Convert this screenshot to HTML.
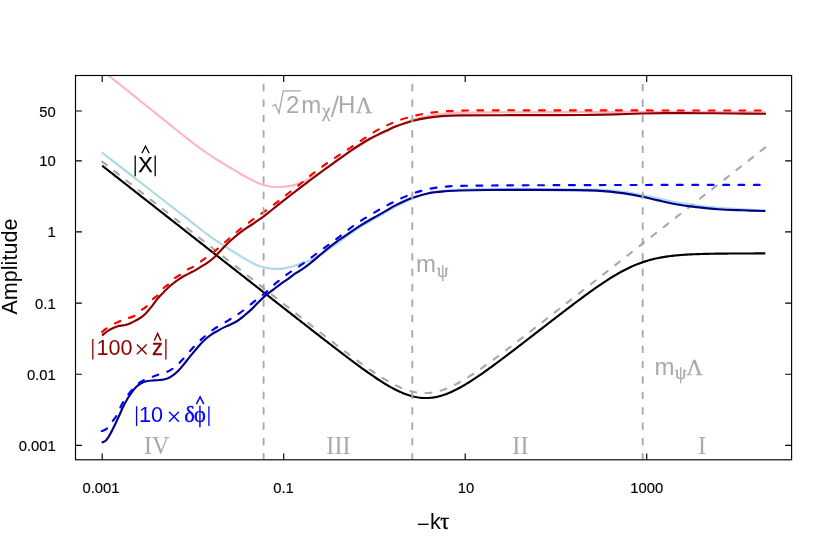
<!DOCTYPE html>
<html><head><meta charset="utf-8"><title>Amplitude vs -k tau</title>
<style>html,body{margin:0;padding:0;background:#fff}svg{display:block;will-change:transform}text{font-family:"Liberation Sans",sans-serif}.se{font-family:"Liberation Serif",serif}</style></head><body>
<svg width="830" height="554" viewBox="0 0 830 554">
<rect width="830" height="554" fill="#fff"/>
<defs><clipPath id="c"><rect x="75.5" y="75.5" width="716.1" height="384.3"/></clipPath></defs>
<g clip-path="url(#c)" fill="none" stroke-width="2.15" stroke-linejoin="round">
<path d="M102.20 70.40 C103.43 71.38 104.62 72.30 109.60 76.30 C114.58 80.30 125.33 88.97 132.10 94.40 C138.87 99.83 144.17 104.08 150.20 108.90 C156.23 113.72 162.27 118.48 168.30 123.30 C174.33 128.12 180.38 133.13 186.40 137.80 C192.42 142.47 198.38 147.08 204.40 151.30 C210.42 155.52 217.67 160.05 222.50 163.10 C227.33 166.15 230.32 167.75 233.40 169.60 C236.48 171.45 238.23 172.62 241.00 174.20 C243.77 175.78 247.42 177.75 250.00 179.10 C252.58 180.45 254.25 181.32 256.50 182.30 C258.75 183.28 260.97 184.27 263.50 185.00 C266.03 185.73 269.07 186.37 271.70 186.70 C274.33 187.03 276.78 187.03 279.30 187.00 C281.82 186.97 284.47 186.77 286.80 186.50 C289.13 186.23 291.13 186.00 293.30 185.40 C295.47 184.80 297.63 183.73 299.80 182.90 C301.97 182.07 303.38 181.86 306.30 180.44 C309.22 179.03 312.57 177.43 317.30 174.42 C322.03 171.41 328.92 166.39 334.70 162.38 C340.48 158.38 346.23 154.17 352.00 150.40 C357.77 146.63 363.52 142.99 369.30 139.75 C375.08 136.51 382.22 133.19 386.70 130.96 C391.18 128.72 391.95 128.19 396.20 126.35 C400.45 124.51 406.78 121.70 412.20 119.93 C417.62 118.16 423.23 116.79 428.70 115.73 C434.17 114.67 439.58 114.07 445.00 113.55 C450.42 113.03 452.03 112.81 461.20 112.60 C470.37 112.39 476.87 112.40 500.00 112.30 C523.13 112.20 566.67 112.08 600.00 112.00 C633.33 111.92 672.43 111.83 700.00 111.80 C727.57 111.77 754.50 111.80 765.40 111.80" stroke="#FFB6C1"/>
<path d="M101.80 152.40 C110.75 159.33 140.80 182.60 155.50 194.00 C170.20 205.40 182.45 214.88 190.00 220.80 C197.55 226.72 197.18 226.70 200.80 229.50 C204.42 232.30 208.08 235.07 211.70 237.60 C215.32 240.13 218.90 242.35 222.50 244.70 C226.10 247.05 229.68 249.42 233.30 251.70 C236.92 253.98 240.95 256.50 244.20 258.40 C247.45 260.30 250.35 261.83 252.80 263.10 C255.25 264.37 256.20 265.13 258.90 266.00 C261.60 266.87 266.15 267.82 269.00 268.30 C271.85 268.78 273.75 268.85 276.00 268.90 C278.25 268.95 280.15 268.92 282.50 268.60 C284.85 268.28 287.57 267.67 290.10 267.00 C292.63 266.33 295.35 265.40 297.70 264.60 C300.05 263.80 302.03 262.91 304.20 262.20 C306.37 261.49 308.18 261.34 310.70 260.34 C313.22 259.34 316.42 257.98 319.30 256.20 C322.18 254.42 325.10 251.78 328.00 249.67 C330.90 247.56 333.70 245.65 336.70 243.52 C339.70 241.39 342.00 239.69 346.00 236.90 C350.00 234.11 355.37 230.14 360.70 226.78 C366.03 223.41 372.30 219.98 378.00 216.70 C383.70 213.42 389.27 210.03 394.90 207.10 C400.53 204.17 406.17 201.40 411.80 199.11 C417.43 196.81 423.08 194.74 428.70 193.32 C434.32 191.90 440.28 191.22 445.50 190.60 C450.72 189.98 452.92 189.90 460.00 189.60 C467.08 189.30 475.33 188.90 488.00 188.80 C500.67 188.70 517.90 188.87 536.00 189.00 C554.10 189.13 584.27 189.37 596.60 189.60 C608.93 189.83 605.35 190.00 610.00 190.40 C614.65 190.80 619.08 191.22 624.50 192.00 C629.92 192.78 636.88 194.03 642.50 195.10 C648.12 196.17 652.37 197.18 658.20 198.43 C664.03 199.67 671.48 201.45 677.50 202.56 C683.52 203.67 687.48 204.21 694.30 205.09 C701.12 205.97 710.37 207.13 718.40 207.83 C726.43 208.53 734.67 208.84 742.50 209.30 C750.33 209.76 761.58 210.37 765.40 210.59" stroke="#ADD8E6"/>
<path d="M102.20 161.61 L103.70 162.78 L105.20 163.96 L106.70 165.13 L108.20 166.31 L109.70 167.49 L111.20 168.66 L112.70 169.84 L114.20 171.02 L115.70 172.19 L117.20 173.37 L118.70 174.54 L120.20 175.72 L121.70 176.90 L123.20 178.07 L124.70 179.25 L126.20 180.43 L127.70 181.60 L129.20 182.78 L130.70 183.95 L132.20 185.13 L133.70 186.31 L135.20 187.48 L136.70 188.66 L138.20 189.83 L139.70 191.01 L141.20 192.19 L142.70 193.36 L144.20 194.54 L145.70 195.72 L147.20 196.89 L148.70 198.07 L150.20 199.24 L151.70 200.42 L153.20 201.60 L154.70 202.77 L156.20 203.95 L157.70 205.13 L159.20 206.30 L160.70 207.48 L162.20 208.65 L163.70 209.83 L165.20 211.01 L166.70 212.18 L168.20 213.36 L169.70 214.53 L171.20 215.71 L172.70 216.89 L174.20 218.06 L175.70 219.24 L177.20 220.42 L178.70 221.59 L180.20 222.77 L181.70 223.94 L183.20 225.12 L184.70 226.30 L186.20 227.47 L187.70 228.65 L189.20 229.83 L190.70 231.00 L192.20 232.18 L193.70 233.35 L195.20 234.53 L196.70 235.71 L198.20 236.88 L199.70 238.06 L201.20 239.23 L202.70 240.41 L204.20 241.59 L205.70 242.76 L207.20 243.94 L208.70 245.12 L210.20 246.29 L211.70 247.47 L213.20 248.64 L214.70 249.82 L216.20 251.00 L217.70 252.17 L219.20 253.35 L220.70 254.52 L222.20 255.70 L223.70 256.88 L225.20 258.05 L226.70 259.23 L228.20 260.41 L229.70 261.58 L231.20 262.76 L232.70 263.93 L234.20 265.11 L235.70 266.29 L237.20 267.46 L238.70 268.64 L240.20 269.81 L241.70 270.99 L243.20 272.17 L244.70 273.34 L246.20 274.52 L247.70 275.69 L249.20 276.87 L250.70 278.05 L252.20 279.22 L253.70 280.40 L255.20 281.57 L256.70 282.75 L258.20 283.92 L259.70 285.10 L261.20 286.28 L262.70 287.45 L264.20 288.63 L265.70 289.80 L267.20 290.98 L268.70 292.15 L270.20 293.33 L271.70 294.50 L273.20 295.68 L274.70 296.85 L276.20 298.03 L277.70 299.20 L279.20 300.38 L280.70 301.55 L282.20 302.73 L283.70 303.90 L285.20 305.08 L286.70 306.25 L288.20 307.42 L289.70 308.60 L291.20 309.77 L292.70 310.94 L294.20 312.12 L295.70 313.29 L297.20 314.46 L298.70 315.64 L300.20 316.81 L301.70 317.98 L303.20 319.15 L304.70 320.32 L306.20 321.49 L307.70 322.66 L309.20 323.83 L310.70 325.00 L312.20 326.17 L313.70 327.34 L315.20 328.51 L316.70 329.67 L318.20 330.84 L319.70 332.01 L321.20 333.17 L322.70 334.33 L324.20 335.50 L325.70 336.66 L327.20 337.82 L328.70 338.98 L330.20 340.13 L331.70 341.29 L333.20 342.44 L334.70 343.60 L336.20 344.75 L337.70 345.90 L339.20 347.04 L340.70 348.19 L342.20 349.33 L343.70 350.47 L345.20 351.61 L346.70 352.74 L348.20 353.87 L349.70 355.00 L351.20 356.12 L352.70 357.24 L354.20 358.36 L355.70 359.47 L357.20 360.57 L358.70 361.67 L360.20 362.76 L361.70 363.85 L363.20 364.93 L364.70 366.00 L366.20 367.07 L367.70 368.13 L369.20 369.17 L370.70 370.21 L372.20 371.24 L373.70 372.26 L375.20 373.26 L376.70 374.26 L378.20 375.24 L379.70 376.20 L381.20 377.15 L382.70 378.09 L384.20 379.01 L385.70 379.91 L387.20 380.79 L388.70 381.65 L390.20 382.49 L391.70 383.30 L393.20 384.10 L394.70 384.86 L396.20 385.60 L397.70 386.32 L399.20 387.00 L400.70 387.66 L402.20 388.28 L403.70 388.87 L405.20 389.43 L406.70 389.95 L408.20 390.43 L409.70 390.88 L411.20 391.29 L412.70 391.65 L414.20 391.98 L415.70 392.26 L417.20 392.51 L418.70 392.71 L420.20 392.86 L421.70 392.97 L423.20 393.04 L424.70 393.06 L426.20 393.04 L427.70 392.97 L429.20 392.86 L430.70 392.70 L432.20 392.51 L433.70 392.26 L435.20 391.98 L436.70 391.65 L438.20 391.28 L439.70 390.87 L441.20 390.43 L442.70 389.94 L444.20 389.42 L445.70 388.87 L447.20 388.28 L448.70 387.65 L450.20 387.00 L451.70 386.31 L453.20 385.60 L454.70 384.86 L456.20 384.09 L457.70 383.30 L459.20 382.48 L460.70 381.64 L462.20 380.78 L463.70 379.90 L465.20 379.00 L466.70 378.08 L468.20 377.15 L469.70 376.19 L471.20 375.23 L472.70 374.25 L474.20 373.25 L475.70 372.25 L477.20 371.23 L478.70 370.20 L480.20 369.16 L481.70 368.12 L483.20 367.06 L484.70 365.99 L486.20 364.92 L487.70 363.84 L489.20 362.75 L490.70 361.66 L492.20 360.56 L493.70 359.46 L495.20 358.35 L496.70 357.23 L498.20 356.11 L499.70 354.99 L501.20 353.86 L502.70 352.73 L504.20 351.60 L505.70 350.46 L507.20 349.32 L508.70 348.18 L510.20 347.03 L511.70 345.89 L513.20 344.74 L514.70 343.59 L516.20 342.43 L517.70 341.28 L519.20 340.12 L520.70 338.97 L522.20 337.81 L523.70 336.65 L525.20 335.49 L526.70 334.32 L528.20 333.16 L529.70 332.00 L531.20 330.83 L532.70 329.66 L534.20 328.50 L535.70 327.33 L537.20 326.16 L538.70 324.99 L540.20 323.82 L541.70 322.65 L543.20 321.48 L544.70 320.31 L546.20 319.14 L547.70 317.97 L549.20 316.80 L550.70 315.63 L552.20 314.45 L553.70 313.28 L555.20 312.11 L556.70 310.94 L558.20 309.76 L559.70 308.59 L561.20 307.41 L562.70 306.24 L564.20 305.07 L565.70 303.89 L567.20 302.72 L568.70 301.54 L570.20 300.37 L571.70 299.19 L573.20 298.02 L574.70 296.84 L576.20 295.67 L577.70 294.49 L579.20 293.32 L580.70 292.14 L582.20 290.97 L583.70 289.79 L585.20 288.62 L586.70 287.44 L588.20 286.27 L589.70 285.09 L591.20 283.91 L592.70 282.74 L594.20 281.56 L595.70 280.39 L597.20 279.21 L598.70 278.04 L600.20 276.86 L601.70 275.68 L603.20 274.51 L604.70 273.33 L606.20 272.16 L607.70 270.98 L609.20 269.80 L610.70 268.63 L612.20 267.45 L613.70 266.28 L615.20 265.10 L616.70 263.92 L618.20 262.75 L619.70 261.57 L621.20 260.40 L622.70 259.22 L624.20 258.04 L625.70 256.87 L627.20 255.69 L628.70 254.51 L630.20 253.34 L631.70 252.16 L633.20 250.99 L634.70 249.81 L636.20 248.63 L637.70 247.46 L639.20 246.28 L640.70 245.11 L642.20 243.93 L643.70 242.75 L645.20 241.58 L646.70 240.40 L648.20 239.22 L649.70 238.05 L651.20 236.87 L652.70 235.70 L654.20 234.52 L655.70 233.34 L657.20 232.17 L658.70 230.99 L660.20 229.82 L661.70 228.64 L663.20 227.46 L664.70 226.29 L666.20 225.11 L667.70 223.93 L669.20 222.76 L670.70 221.58 L672.20 220.41 L673.70 219.23 L675.20 218.05 L676.70 216.88 L678.20 215.70 L679.70 214.52 L681.20 213.35 L682.70 212.17 L684.20 211.00 L685.70 209.82 L687.20 208.64 L688.70 207.47 L690.20 206.29 L691.70 205.12 L693.20 203.94 L694.70 202.76 L696.20 201.59 L697.70 200.41 L699.20 199.23 L700.70 198.06 L702.20 196.88 L703.70 195.71 L705.20 194.53 L706.70 193.35 L708.20 192.18 L709.70 191.00 L711.20 189.82 L712.70 188.65 L714.20 187.47 L715.70 186.30 L717.20 185.12 L718.70 183.94 L720.20 182.77 L721.70 181.59 L723.20 180.42 L724.70 179.24 L726.20 178.06 L727.70 176.89 L729.20 175.71 L730.70 174.53 L732.20 173.36 L733.70 172.18 L735.20 171.01 L736.70 169.83 L738.20 168.65 L739.70 167.48 L741.20 166.30 L742.70 165.12 L744.20 163.95 L745.70 162.77 L747.20 161.60 L748.70 160.42 L750.20 159.24 L751.70 158.07 L753.20 156.89 L754.70 155.72 L756.20 154.54 L757.70 153.36 L759.20 152.19 L760.70 151.01 L762.20 149.83 L763.70 148.66 L765.20 147.48 L765.30 147.40" stroke="#A9A9A9" stroke-dasharray="5.8 9.6" stroke-linecap="round"/>
<path d="M102.20 165.71 L103.70 166.89 L105.20 168.06 L106.70 169.24 L108.20 170.41 L109.70 171.59 L111.20 172.77 L112.70 173.94 L114.20 175.12 L115.70 176.30 L117.20 177.47 L118.70 178.65 L120.20 179.82 L121.70 181.00 L123.20 182.18 L124.70 183.35 L126.20 184.53 L127.70 185.71 L129.20 186.88 L130.70 188.06 L132.20 189.23 L133.70 190.41 L135.20 191.59 L136.70 192.76 L138.20 193.94 L139.70 195.11 L141.20 196.29 L142.70 197.47 L144.20 198.64 L145.70 199.82 L147.20 201.00 L148.70 202.17 L150.20 203.35 L151.70 204.52 L153.20 205.70 L154.70 206.88 L156.20 208.05 L157.70 209.23 L159.20 210.41 L160.70 211.58 L162.20 212.76 L163.70 213.93 L165.20 215.11 L166.70 216.29 L168.20 217.46 L169.70 218.64 L171.20 219.81 L172.70 220.99 L174.20 222.17 L175.70 223.34 L177.20 224.52 L178.70 225.70 L180.20 226.87 L181.70 228.05 L183.20 229.22 L184.70 230.40 L186.20 231.58 L187.70 232.75 L189.20 233.93 L190.70 235.11 L192.20 236.28 L193.70 237.46 L195.20 238.63 L196.70 239.81 L198.20 240.99 L199.70 242.16 L201.20 243.34 L202.70 244.51 L204.20 245.69 L205.70 246.87 L207.20 248.04 L208.70 249.22 L210.20 250.40 L211.70 251.57 L213.20 252.75 L214.70 253.92 L216.20 255.10 L217.70 256.28 L219.20 257.45 L220.70 258.63 L222.20 259.80 L223.70 260.98 L225.20 262.16 L226.70 263.33 L228.20 264.51 L229.70 265.69 L231.20 266.86 L232.70 268.04 L234.20 269.21 L235.70 270.39 L237.20 271.57 L238.70 272.74 L240.20 273.92 L241.70 275.09 L243.20 276.27 L244.70 277.45 L246.20 278.62 L247.70 279.80 L249.20 280.97 L250.70 282.15 L252.20 283.33 L253.70 284.50 L255.20 285.68 L256.70 286.85 L258.20 288.03 L259.70 289.20 L261.20 290.38 L262.70 291.56 L264.20 292.73 L265.70 293.91 L267.20 295.08 L268.70 296.26 L270.20 297.43 L271.70 298.61 L273.20 299.78 L274.70 300.96 L276.20 302.13 L277.70 303.31 L279.20 304.48 L280.70 305.66 L282.20 306.83 L283.70 308.01 L285.20 309.18 L286.70 310.36 L288.20 311.53 L289.70 312.70 L291.20 313.88 L292.70 315.05 L294.20 316.22 L295.70 317.40 L297.20 318.57 L298.70 319.74 L300.20 320.92 L301.70 322.09 L303.20 323.26 L304.70 324.43 L306.20 325.60 L307.70 326.77 L309.20 327.94 L310.70 329.11 L312.20 330.28 L313.70 331.45 L315.20 332.62 L316.70 333.78 L318.20 334.95 L319.70 336.12 L321.20 337.28 L322.70 338.45 L324.20 339.61 L325.70 340.77 L327.20 341.93 L328.70 343.09 L330.20 344.25 L331.70 345.41 L333.20 346.56 L334.70 347.72 L336.20 348.87 L337.70 350.02 L339.20 351.17 L340.70 352.32 L342.20 353.46 L343.70 354.60 L345.20 355.74 L346.70 356.88 L348.20 358.01 L349.70 359.14 L351.20 360.26 L352.70 361.39 L354.20 362.50 L355.70 363.62 L357.20 364.73 L358.70 365.83 L360.20 366.93 L361.70 368.02 L363.20 369.10 L364.70 370.18 L366.20 371.25 L367.70 372.32 L369.20 373.37 L370.70 374.42 L372.20 375.45 L373.70 376.48 L375.20 377.49 L376.70 378.49 L378.20 379.48 L379.70 380.46 L381.20 381.42 L382.70 382.37 L384.20 383.30 L385.70 384.21 L387.20 385.10 L388.70 385.98 L390.20 386.83 L391.70 387.67 L393.20 388.48 L394.70 389.26 L396.20 390.02 L397.70 390.76 L399.20 391.46 L400.70 392.14 L402.20 392.79 L403.70 393.40 L405.20 393.98 L406.70 394.53 L408.20 395.04 L409.70 395.51 L411.20 395.95 L412.70 396.34 L414.20 396.70 L415.70 397.01 L417.20 397.29 L418.70 397.52 L420.20 397.70 L421.70 397.85 L423.20 397.95 L424.70 398.00 L426.20 398.01 L427.70 397.98 L429.20 397.90 L430.70 397.77 L432.20 397.60 L433.70 397.39 L435.20 397.14 L436.70 396.84 L438.20 396.50 L439.70 396.12 L441.20 395.70 L442.70 395.25 L444.20 394.75 L445.70 394.22 L447.20 393.65 L448.70 393.05 L450.20 392.42 L451.70 391.76 L453.20 391.07 L454.70 390.34 L456.20 389.59 L457.70 388.82 L459.20 388.02 L460.70 387.20 L462.20 386.35 L463.70 385.49 L465.20 384.60 L466.70 383.69 L468.20 382.77 L469.70 381.83 L471.20 380.88 L472.70 379.91 L474.20 378.92 L475.70 377.93 L477.20 376.92 L478.70 375.90 L480.20 374.87 L481.70 373.83 L483.20 372.78 L484.70 371.72 L486.20 370.65 L487.70 369.57 L489.20 368.49 L490.70 367.40 L492.20 366.31 L493.70 365.21 L495.20 364.10 L496.70 362.99 L498.20 361.88 L499.70 360.76 L501.20 359.64 L502.70 358.51 L504.20 357.38 L505.70 356.25 L507.20 355.11 L508.70 353.97 L510.20 352.83 L511.70 351.69 L513.20 350.54 L514.70 349.39 L516.20 348.25 L517.70 347.09 L519.20 345.94 L520.70 344.79 L522.20 343.63 L523.70 342.48 L525.20 341.32 L526.70 340.16 L528.20 339.01 L529.70 337.85 L531.20 336.69 L532.70 335.53 L534.20 334.37 L535.70 333.21 L537.20 332.05 L538.70 330.88 L540.20 329.72 L541.70 328.56 L543.20 327.40 L544.70 326.24 L546.20 325.08 L547.70 323.92 L549.20 322.76 L550.70 321.61 L552.20 320.45 L553.70 319.29 L555.20 318.14 L556.70 316.98 L558.20 315.83 L559.70 314.68 L561.20 313.53 L562.70 312.38 L564.20 311.23 L565.70 310.08 L567.20 308.94 L568.70 307.80 L570.20 306.66 L571.70 305.53 L573.20 304.39 L574.70 303.26 L576.20 302.14 L577.70 301.01 L579.20 299.89 L580.70 298.78 L582.20 297.67 L583.70 296.56 L585.20 295.46 L586.70 294.37 L588.20 293.28 L589.70 292.19 L591.20 291.12 L592.70 290.05 L594.20 288.98 L595.70 287.93 L597.20 286.88 L598.70 285.85 L600.20 284.82 L601.70 283.80 L603.20 282.80 L604.70 281.80 L606.20 280.82 L607.70 279.85 L609.20 278.89 L610.70 277.95 L612.20 277.02 L613.70 276.11 L615.20 275.21 L616.70 274.33 L618.20 273.47 L619.70 272.62 L621.20 271.79 L622.70 270.98 L624.20 270.20 L625.70 269.43 L627.20 268.68 L628.70 267.95 L630.20 267.24 L631.70 266.56 L633.20 265.89 L634.70 265.25 L636.20 264.63 L637.70 264.04 L639.20 263.46 L640.70 262.91 L642.20 262.38 L643.70 261.88 L645.20 261.39 L646.70 260.93 L648.20 260.48 L649.70 260.06 L651.20 259.66 L652.70 259.28 L654.20 258.92 L655.70 258.57 L657.20 258.25 L658.70 257.94 L660.20 257.65 L661.70 257.37 L663.20 257.11 L664.70 256.87 L666.20 256.64 L667.70 256.43 L669.20 256.22 L670.70 256.03 L672.20 255.85 L673.70 255.69 L675.20 255.53 L676.70 255.39 L678.20 255.25 L679.70 255.12 L681.20 255.00 L682.70 254.89 L684.20 254.78 L685.70 254.69 L687.20 254.60 L688.70 254.51 L690.20 254.43 L691.70 254.36 L693.20 254.29 L694.70 254.23 L696.20 254.17 L697.70 254.11 L699.20 254.06 L700.70 254.02 L702.20 253.97 L703.70 253.93 L705.20 253.89 L706.70 253.86 L708.20 253.82 L709.70 253.79 L711.20 253.77 L712.70 253.74 L714.20 253.72 L715.70 253.69 L717.20 253.67 L718.70 253.65 L720.20 253.63 L721.70 253.62 L723.20 253.60 L724.70 253.59 L726.20 253.57 L727.70 253.56 L729.20 253.55 L730.70 253.54 L732.20 253.53 L733.70 253.52 L735.20 253.51 L736.70 253.50 L738.20 253.50 L739.70 253.49 L741.20 253.48 L742.70 253.48 L744.20 253.47 L745.70 253.47 L747.20 253.46 L748.70 253.46 L750.20 253.45 L751.70 253.45 L753.20 253.45 L754.70 253.44 L756.20 253.44 L757.70 253.44 L759.20 253.44 L760.70 253.43 L762.20 253.43 L763.70 253.43 L765.20 253.43 L765.30 253.43" stroke="#000"/>
<path d="M102.00 335.50 C103.17 334.61 106.48 331.67 109.00 330.16 C111.52 328.66 114.40 327.30 117.10 326.45 C119.80 325.59 122.63 325.77 125.20 325.06 C127.77 324.34 130.20 323.20 132.50 322.16 C134.80 321.11 136.83 320.19 139.00 318.77 C141.17 317.36 143.33 315.76 145.50 313.65 C147.67 311.53 149.83 308.76 152.00 306.08 C154.17 303.40 156.33 300.10 158.50 297.56 C160.67 295.02 162.83 292.97 165.00 290.84 C167.17 288.70 169.33 286.57 171.50 284.73 C173.67 282.90 175.83 281.32 178.00 279.83 C180.17 278.34 182.33 277.02 184.50 275.79 C186.67 274.57 189.37 273.32 191.00 272.49 C192.63 271.67 192.67 271.78 194.30 270.84 C195.93 269.90 198.63 268.18 200.80 266.84 C202.97 265.50 205.13 264.31 207.30 262.78 C209.47 261.26 211.63 259.69 213.80 257.71 C215.97 255.74 218.13 253.20 220.30 250.94 C222.47 248.68 224.63 246.27 226.80 244.15 C228.97 242.04 231.13 240.12 233.30 238.25 C235.47 236.38 237.63 234.61 239.80 232.95 C241.97 231.28 244.13 229.74 246.30 228.24 C248.47 226.75 251.10 225.12 252.80 223.99 C254.50 222.85 254.72 222.68 256.50 221.44 C258.28 220.20 260.97 218.46 263.50 216.55 C266.03 214.64 268.90 212.23 271.70 210.00 C274.50 207.77 277.42 205.46 280.30 203.19 C283.18 200.92 286.10 198.62 289.00 196.37 C291.90 194.11 294.82 191.85 297.70 189.64 C300.58 187.43 303.03 185.56 306.30 183.10 C309.57 180.63 314.02 177.30 317.30 174.87 C320.58 172.43 323.10 170.59 326.00 168.47 C328.90 166.36 331.82 164.25 334.70 162.18 C337.58 160.11 340.42 158.09 343.30 156.06 C346.18 154.02 349.10 151.93 352.00 149.97 C354.90 148.00 357.82 146.09 360.70 144.27 C363.58 142.45 366.42 140.65 369.30 139.05 C372.18 137.45 375.10 136.06 378.00 134.65 C380.90 133.23 383.67 131.94 386.70 130.56 C389.73 129.17 391.95 127.94 396.20 126.35 C400.45 124.76 406.78 122.47 412.20 121.01 C417.62 119.56 423.23 118.47 428.70 117.62 C434.17 116.76 439.58 116.27 445.00 115.90 C450.42 115.53 452.03 115.52 461.20 115.40 C470.37 115.28 483.53 115.25 500.00 115.20 C516.47 115.15 545.00 115.15 560.00 115.10 C575.00 115.05 580.83 115.02 590.00 114.90 C599.17 114.78 606.25 114.63 615.00 114.40 C623.75 114.17 634.17 113.72 642.50 113.50 C650.83 113.28 655.42 113.15 665.00 113.10 C674.58 113.05 688.33 113.13 700.00 113.20 C711.67 113.27 724.00 113.40 735.00 113.50 C746.00 113.60 760.83 113.75 766.00 113.80" stroke="#8B0000"/>
<path d="M102.00 332.00 C103.17 331.10 106.48 328.18 109.00 326.59 C111.52 325.01 114.77 323.63 117.10 322.50 C119.43 321.36 121.15 320.50 123.00 319.78 C124.85 319.05 126.35 318.77 128.20 318.14 C130.05 317.52 131.93 317.35 134.10 316.02 C136.27 314.70 139.12 311.80 141.20 310.19 C143.28 308.58 144.80 308.08 146.60 306.35 C148.40 304.62 150.10 301.72 152.00 299.81 C153.90 297.89 156.20 296.69 158.00 294.86 C159.80 293.03 161.08 290.55 162.80 288.82 C164.52 287.09 166.40 286.20 168.30 284.48 C170.20 282.77 172.22 280.17 174.20 278.54 C176.18 276.90 178.03 276.16 180.20 274.69 C182.37 273.22 184.95 271.12 187.20 269.74 C189.45 268.35 191.07 268.04 193.70 266.39 C196.33 264.73 199.47 262.38 203.00 259.82 C206.53 257.25 210.93 254.19 214.90 251.00 C218.87 247.82 222.92 244.07 226.80 240.69 C230.68 237.31 234.22 233.96 238.20 230.71 C242.18 227.45 246.57 224.19 250.70 221.17 C254.83 218.15 258.87 215.56 263.00 212.60 C267.13 209.64 271.43 206.50 275.50 203.40 C279.57 200.30 283.35 197.17 287.40 194.00 C291.45 190.83 295.87 187.55 299.80 184.40 C303.73 181.25 307.12 178.17 311.00 175.10 C314.88 172.03 318.92 168.97 323.10 165.97 C327.28 162.96 331.77 159.97 336.10 157.07 C340.43 154.18 344.77 151.44 349.10 148.59 C353.43 145.75 357.77 142.86 362.10 139.99 C366.43 137.12 371.00 133.81 375.10 131.40 C379.20 128.99 383.18 127.21 386.70 125.53 C390.22 123.86 391.95 122.90 396.20 121.36 C400.45 119.82 406.78 117.68 412.20 116.30 C417.62 114.92 423.23 113.89 428.70 113.06 C434.17 112.23 439.58 111.73 445.00 111.32 C450.42 110.92 452.03 110.77 461.20 110.60 C470.37 110.43 476.87 110.33 500.00 110.30 C523.13 110.27 566.67 110.37 600.00 110.40 C633.33 110.43 673.17 110.48 700.00 110.50 C726.83 110.52 750.83 110.50 761.00 110.50" stroke="#FF0000" stroke-dasharray="5.8 9.6" stroke-linecap="round"/>
<path d="M101.80 442.70 C102.52 442.28 104.67 441.70 106.10 440.20 C107.53 438.70 108.95 436.23 110.40 433.70 C111.85 431.17 113.35 428.00 114.80 425.00 C116.25 422.00 117.67 418.82 119.10 415.70 C120.53 412.58 121.95 409.20 123.40 406.30 C124.85 403.40 126.35 400.72 127.80 398.30 C129.25 395.88 130.67 393.72 132.10 391.80 C133.53 389.88 134.95 388.18 136.40 386.80 C137.85 385.42 139.12 384.42 140.80 383.50 C142.48 382.58 144.33 381.82 146.50 381.30 C148.67 380.78 151.55 380.62 153.80 380.40 C156.05 380.18 158.00 380.22 160.00 380.00 C162.00 379.78 163.90 379.67 165.80 379.06 C167.70 378.46 169.48 377.60 171.40 376.39 C173.32 375.17 175.35 373.63 177.30 371.77 C179.25 369.92 181.17 367.57 183.10 365.26 C185.03 362.95 186.97 360.31 188.90 357.91 C190.83 355.51 192.78 353.16 194.70 350.87 C196.62 348.58 198.48 346.22 200.40 344.16 C202.32 342.10 204.27 340.19 206.20 338.50 C208.13 336.81 210.07 335.32 212.00 334.02 C213.93 332.73 215.88 331.81 217.80 330.74 C219.72 329.68 221.55 328.59 223.50 327.63 C225.45 326.67 227.22 326.08 229.50 324.97 C231.78 323.87 234.72 322.59 237.20 321.01 C239.68 319.44 241.98 317.52 244.40 315.53 C246.82 313.55 249.28 311.43 251.70 309.13 C254.12 306.83 256.62 303.97 258.90 301.73 C261.18 299.48 263.00 297.67 265.40 295.65 C267.80 293.62 270.78 291.54 273.30 289.60 C275.82 287.66 278.08 285.78 280.50 284.03 C282.92 282.28 285.38 280.81 287.80 279.09 C290.22 277.37 292.63 275.34 295.00 273.72 C297.37 272.11 299.38 271.21 302.00 269.40 C304.62 267.59 307.82 265.17 310.70 262.87 C313.58 260.58 316.42 258.04 319.30 255.63 C322.18 253.22 325.10 250.72 328.00 248.40 C330.90 246.08 334.15 243.58 336.70 241.70 C339.25 239.82 340.75 238.88 343.30 237.11 C345.85 235.35 349.10 233.06 352.00 231.11 C354.90 229.15 357.82 227.19 360.70 225.39 C363.58 223.59 366.42 221.96 369.30 220.30 C372.18 218.64 375.10 217.05 378.00 215.40 C380.90 213.75 383.88 212.03 386.70 210.40 C389.52 208.77 390.72 207.66 394.90 205.60 C399.08 203.54 406.17 200.08 411.80 198.01 C417.43 195.95 423.08 194.34 428.70 193.20 C434.32 192.06 440.28 191.65 445.50 191.20 C450.72 190.75 452.92 190.70 460.00 190.50 C467.08 190.30 475.33 190.10 488.00 190.00 C500.67 189.90 521.50 189.88 536.00 189.90 C550.50 189.92 564.90 189.98 575.00 190.10 C585.10 190.22 590.77 190.35 596.60 190.60 C602.43 190.85 605.35 191.13 610.00 191.60 C614.65 192.07 619.08 192.55 624.50 193.40 C629.92 194.25 636.88 195.53 642.50 196.70 C648.12 197.87 652.37 199.10 658.20 200.40 C664.03 201.70 671.48 203.42 677.50 204.50 C683.52 205.58 687.48 206.10 694.30 206.90 C701.12 207.70 710.37 208.73 718.40 209.30 C726.43 209.87 734.67 210.02 742.50 210.30 C750.33 210.58 761.58 210.88 765.40 211.00" stroke="#00008B"/>
<path d="M101.80 431.10 C102.63 430.68 105.12 430.08 106.80 428.60 C108.48 427.12 110.22 424.48 111.90 422.20 C113.58 419.92 115.22 417.92 116.90 414.90 C118.58 411.88 120.32 407.22 122.00 404.10 C123.68 400.98 125.32 398.60 127.00 396.20 C128.68 393.80 130.28 391.75 132.10 389.70 C133.92 387.65 135.97 385.47 137.90 383.90 C139.83 382.33 141.53 381.38 143.70 380.30 C145.87 379.22 148.50 378.33 150.90 377.40 C153.30 376.47 155.70 375.50 158.10 374.70 C160.50 373.90 162.82 373.63 165.30 372.60 C167.78 371.57 170.27 370.50 173.00 368.50 C175.73 366.50 178.57 363.85 181.70 360.60 C184.83 357.35 188.43 352.62 191.80 349.00 C195.17 345.38 198.30 342.15 201.90 338.90 C205.50 335.65 209.07 332.55 213.40 329.50 C217.73 326.45 223.45 323.38 227.90 320.60 C232.35 317.82 235.90 315.84 240.10 312.81 C244.30 309.77 249.00 305.65 253.10 302.40 C257.20 299.15 260.85 296.55 264.70 293.30 C268.55 290.05 272.23 286.23 276.20 282.90 C280.17 279.57 284.28 276.33 288.50 273.30 C292.72 270.27 297.35 267.58 301.50 264.70 C305.65 261.82 309.35 258.98 313.40 256.00 C317.45 253.02 321.65 249.87 325.80 246.80 C329.95 243.73 333.93 240.91 338.30 237.60 C342.67 234.29 347.38 230.27 352.00 226.93 C356.62 223.59 361.25 220.55 366.00 217.56 C370.75 214.57 375.68 211.69 380.50 208.99 C385.32 206.29 389.68 203.89 394.90 201.37 C400.12 198.85 406.17 195.94 411.80 193.89 C417.43 191.84 423.08 190.27 428.70 189.06 C434.32 187.84 440.28 187.13 445.50 186.60 C450.72 186.08 450.92 186.10 460.00 185.91 C469.08 185.71 476.67 185.56 500.00 185.42 C523.33 185.28 566.67 185.14 600.00 185.05 C633.33 184.96 673.33 184.91 700.00 184.88 C726.67 184.86 750.00 184.90 760.00 184.90" stroke="#0000FF" stroke-dasharray="5.8 9.6" stroke-linecap="round"/>
<path d="M263.6 459.85 V75" stroke="#A9A9A9" stroke-width="1.9" stroke-linecap="round" stroke-dasharray="5.8 9.585"/>
<path d="M412.3 459.85 V75" stroke="#A9A9A9" stroke-width="1.9" stroke-linecap="round" stroke-dasharray="5.8 9.585"/>
<path d="M642.7 459.85 V75" stroke="#A9A9A9" stroke-width="1.9" stroke-linecap="round" stroke-dasharray="5.8 9.585"/>
</g>
<g fill="none" stroke="#000" stroke-width="1.15">
<rect x="75.5" y="75.5" width="716.1" height="384.3"/>
<path d="M102.2 459.8 v-6.4 M102.2 75.5 v6.4"/>
<path d="M283.7 459.8 v-6.4 M283.7 75.5 v6.4"/>
<path d="M465.2 459.8 v-6.4 M465.2 75.5 v6.4"/>
<path d="M646.7 459.8 v-6.4 M646.7 75.5 v6.4"/>
<path d="M75.5 111.0 h6.4 M791.6 111.0 h-6.4"/>
<path d="M75.5 160.8 h6.4 M791.6 160.8 h-6.4"/>
<path d="M75.5 231.9 h6.4 M791.6 231.9 h-6.4"/>
<path d="M75.5 303.1 h6.4 M791.6 303.1 h-6.4"/>
<path d="M75.5 374.2 h6.4 M791.6 374.2 h-6.4"/>
<path d="M75.5 445.4 h6.4 M791.6 445.4 h-6.4"/>
</g>
<g font-size="14.8" fill="#000" stroke="#000" stroke-width="0.15">
<text x="101.0" y="493" text-anchor="middle">0.001</text>
<text x="283.5" y="493" text-anchor="middle">0.1</text>
<text x="466.0" y="493" text-anchor="middle">10</text>
<text x="646.8" y="493" text-anchor="middle">1000</text>
<text x="55.7" y="116.5" text-anchor="end">50</text>
<text x="55.7" y="166.3" text-anchor="end">10</text>
<text x="55.7" y="237.4" text-anchor="end">1</text>
<text x="55.7" y="308.6" text-anchor="end">0.1</text>
<text x="55.7" y="379.7" text-anchor="end">0.01</text>
<text x="55.7" y="450.9" text-anchor="end">0.001</text>
</g>
<text font-size="21.6" text-anchor="middle" transform="translate(16.6 266.6) rotate(-90)">Amplitude</text>
<path d="M417.9 524.3 H428.6" fill="none" stroke="#000" stroke-width="1.35"/>
<text font-size="21.6" x="430.0" y="529.2">k</text>
<text font-size="22.5" x="440.3" y="529.2" class="se" stroke="#000" stroke-width="0.3">τ</text>
<g fill="#A9A9A9" font-size="24">
<path d="M272.1 106.2 L275.3 104.4 L279.0 113.0 L283.2 90.9 H300.7" fill="none" stroke="#A9A9A9" stroke-width="1.3"/>
<text x="286" y="112.9">2</text>
<text x="301.3" y="112.9">m</text>
<text x="322.2" y="117.3" font-size="18" class="se" stroke="#A9A9A9" stroke-width="0.3">χ</text>
<path d="M331.7 117.0 L338.2 95.6" fill="none" stroke="#A9A9A9" stroke-width="1.9"/>
<text x="338" y="112.9">H</text>
<text x="356.0" y="112.9" class="se" stroke="#A9A9A9" stroke-width="0.35" textLength="16.2" lengthAdjust="spacingAndGlyphs">Λ</text>
<text x="416" y="271.8">m</text>
<text x="437.0" y="276.6" font-size="18" class="se" stroke="#A9A9A9" stroke-width="0.35">ψ</text>
<text x="654.4" y="374.6">m</text>
<text x="675.0" y="379.0" font-size="18" class="se" stroke="#A9A9A9" stroke-width="0.35">ψ</text>
<text x="686.6" y="374.9" class="se" stroke="#A9A9A9" stroke-width="0.35" textLength="16.2" lengthAdjust="spacingAndGlyphs">Λ</text>
<g class="se" text-anchor="middle">
<text transform="translate(156.6 453.9) scale(0.95 1)" font-size="25.4" class="se">IV</text>
<text transform="translate(338.4 453.9) scale(0.95 1)" font-size="25.4" class="se">III</text>
<text transform="translate(520.4 453.9) scale(0.95 1)" font-size="25.4" class="se">II</text>
<text transform="translate(702.1 453.9) scale(0.95 1)" font-size="25.4" class="se">I</text>
</g>
</g>
<g fill="#000" font-size="21.6">
<text x="138.2" y="171.6" stroke="#000" stroke-width="0.25">X</text>
<path d="M135.2 155.5 V176.2 M155.2 155.5 V176.2" fill="none" stroke="#000" stroke-width="1.3"/>
<path d="M141.9 153.3 L145.5 146.2 L149.2 153.3" fill="none" stroke="#000" stroke-width="1.25"/>
</g>
<g fill="#8B0000" font-size="21.6">
<text x="96.6" y="354.7">100</text><text x="152" y="354.8" stroke="#8B0000" stroke-width="0.35">z</text>
<path d="M92.8 339 V359.4 M165.9 339 V359.4" fill="none" stroke="#8B0000" stroke-width="1.3"/>
<path d="M136.9 344.5 L146.7 354.3 M146.7 344.5 L136.9 354.3" fill="none" stroke="#8B0000" stroke-width="1.35"/>
<path d="M154.3 340.6 L157.6 333.5 L160.9 340.6" fill="none" stroke="#8B0000" stroke-width="1.5"/>
</g>
<g fill="#0000FF" font-size="21.6">
<text x="139" y="421.5">10</text><text x="184.2" y="421.8" class="se" font-size="22.5" stroke="#0000FF" stroke-width="0.4">δ</text><text x="194.0" y="421.8" class="se" font-size="22.5" stroke="#0000FF" stroke-width="0.3">ϕ</text>
<path d="M136.6 406.3 V426.1 M208.9 406.3 V426.1" fill="none" stroke="#0000FF" stroke-width="1.3"/>
<path d="M169.0 411.8 L178.9 421.7 M178.9 411.8 L169.0 421.7" fill="none" stroke="#0000FF" stroke-width="1.35"/>
<path d="M196.4 404.2 L200.1 397.0 L203.8 404.2" fill="none" stroke="#0000FF" stroke-width="1.5"/>
</g>
</svg></body></html>
